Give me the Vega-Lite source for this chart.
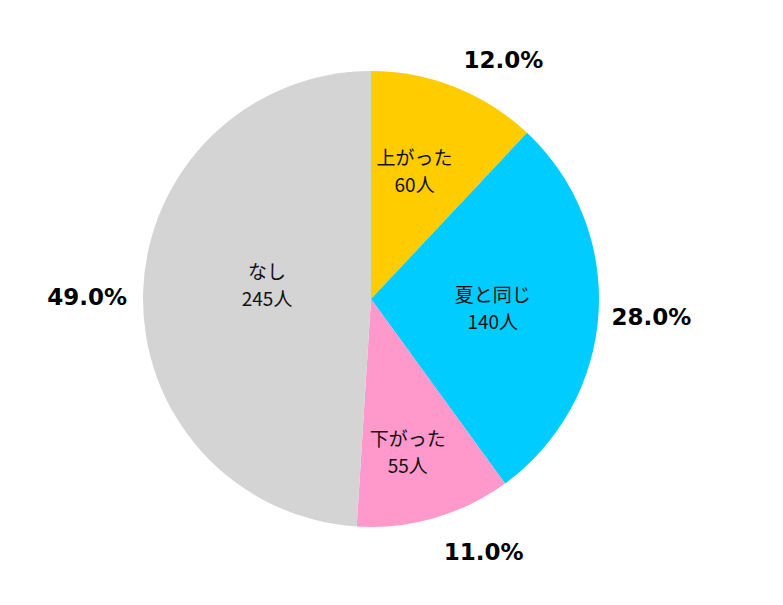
{
  "$schema": "https://vega.github.io/schema/vega-lite/v6.json",
  "autosize": {"type": "none"},
  "padding": 0,
  "width": 742,
  "height": 598,
  "background": "white",
  "view": {"stroke": null},
  "data": {"values": [
    {"rank": 1, "cat": "上がった", "count": 60, "label": "上がった\n60人", "pct": "12.0%"},
    {"rank": 2, "cat": "夏と同じ", "count": 140, "label": "夏と同じ\n140人", "pct": "28.0%"},
    {"rank": 3, "cat": "下がった", "count": 55, "label": "下がった\n55人", "pct": "11.0%"},
    {"rank": 4, "cat": "なし", "count": 245, "label": "なし\n245人", "pct": "49.0%"}
  ]},
  "encoding": {
    "theta": {"field": "count", "type": "quantitative", "stack": true},
    "order": {"field": "rank", "type": "quantitative"}
  },
  "layer": [
    {
      "mark": {"type": "arc", "outerRadius": 228},
      "encoding": {
        "color": {
          "field": "cat", "type": "nominal",
          "scale": {"domain": ["上がった", "夏と同じ", "下がった", "なし"], "range": ["#FFCC00", "#00CCFF", "#FF99CC", "#D4D4D4"]},
          "legend": null
        }
      }
    },
    {
      "mark": {"type": "text", "radius": 132, "dx": -5, "dy": -17, "font": "Noto Sans CJK JP", "fontSize": 19, "lineBreak": "\n", "lineHeight": 27, "color": "#111111", "baseline": "middle"},
      "encoding": {"text": {"condition": {"test": "datum.rank == 1", "field": "label"}, "value": ""}}
    },
    {
      "mark": {"type": "text", "radius": 132, "dx": -10, "dy": -11, "font": "Noto Sans CJK JP", "fontSize": 19, "lineBreak": "\n", "lineHeight": 27, "color": "#111111", "baseline": "middle"},
      "encoding": {"text": {"condition": {"test": "datum.rank == 2", "field": "label"}, "value": ""}}
    },
    {
      "mark": {"type": "text", "radius": 132, "dx": 0, "dy": 14, "font": "Noto Sans CJK JP", "fontSize": 19, "lineBreak": "\n", "lineHeight": 27, "color": "#111111", "baseline": "middle"},
      "encoding": {"text": {"condition": {"test": "datum.rank == 3", "field": "label"}, "value": ""}}
    },
    {
      "mark": {"type": "text", "radius": 132, "dx": 28, "dy": -22, "font": "Noto Sans CJK JP", "fontSize": 19, "lineBreak": "\n", "lineHeight": 27, "color": "#111111", "baseline": "middle"},
      "encoding": {"text": {"condition": {"test": "datum.rank == 4", "field": "label"}, "value": ""}}
    },
    {
      "mark": {"type": "text", "radius": 278, "dx": 30, "dy": 20, "font": "DejaVu Sans", "fontWeight": "bold", "fontSize": 23, "color": "#000000", "baseline": "middle"},
      "encoding": {"text": {"condition": {"test": "datum.rank == 1", "field": "pct"}, "value": ""}}
    },
    {
      "mark": {"type": "text", "radius": 278, "dx": 3, "dy": 2, "font": "DejaVu Sans", "fontWeight": "bold", "fontSize": 23, "color": "#000000", "baseline": "middle"},
      "encoding": {"text": {"condition": {"test": "datum.rank == 2", "field": "pct"}, "value": ""}}
    },
    {
      "mark": {"type": "text", "radius": 278, "dx": 35, "dy": -13, "font": "DejaVu Sans", "fontWeight": "bold", "fontSize": 23, "color": "#000000", "baseline": "middle"},
      "encoding": {"text": {"condition": {"test": "datum.rank == 3", "field": "pct"}, "value": ""}}
    },
    {
      "mark": {"type": "text", "radius": 278, "dx": -6, "dy": 8, "font": "DejaVu Sans", "fontWeight": "bold", "fontSize": 23, "color": "#000000", "baseline": "middle"},
      "encoding": {"text": {"condition": {"test": "datum.rank == 4", "field": "pct"}, "value": ""}}
    }
  ]
}
